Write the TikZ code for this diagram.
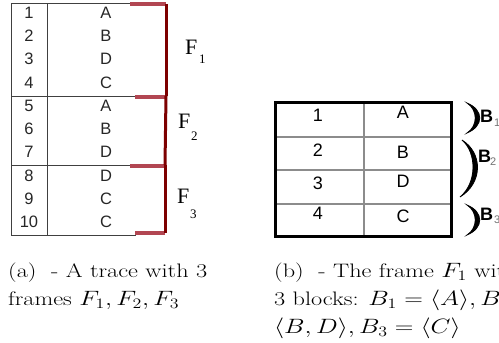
\documentclass[tikz,border=0pt]{standalone}
\usepackage{graphicx}
\usepackage{fontspec}
\newfontfamily\tabfont{Liberation Sans}
\newfontfamily\flabfont{Liberation Serif}
\newcommand\capstretch[1]{\scalebox{1.245}[1]{#1}}
\begin{document}
\begin{tikzpicture}[x=1pt,y=-1pt,
  cell/.style={font=\tabfont\fontsize{16.5}{16.5}\selectfont, text=black!85, inner sep=0pt, anchor=center},
  rcell/.style={font=\tabfont\fontsize{18}{18}\selectfont, text=black, inner sep=0pt, anchor=center},
  grid/.style={draw=black!75, line width=0.9pt},
  fhor/.style={draw={rgb,255:red,178;green,70;blue,82}, line width=4.5pt},
  fver/.style={draw={rgb,255:red,125;green,0;blue,0}, line width=3pt},
  flab/.style={font=\flabfont\fontsize{22}{22}\selectfont, inner sep=0pt, anchor=base west},
  fsub/.style={font=\flabfont\fontsize{13}{13}\selectfont, inner sep=0pt, anchor=base west},
  rgrid/.style={draw=black!45, line width=2.2pt},
  paren/.style={fill=black, draw=black, line width=0.8pt},
  blab/.style={font=\tabfont\bfseries\fontsize{18}{18}\selectfont, inner sep=0pt, anchor=base west},
  bsub/.style={font=\tabfont\fontsize{11}{11}\selectfont, text=black!55, inner sep=0pt, anchor=base west},
  captext/.style={font=\fontsize{19.5}{19.5}\selectfont, inner sep=0pt, anchor=base west}]
\useasboundingbox (0,0) rectangle (499,343);
% ---------- left table ----------
\draw[grid] (11,3) -- (11,235);
\draw[grid] (47,3) -- (47,235);
\draw[grid] (11,3) -- (132,3);
\draw[grid] (11,96) -- (136,96);
\draw[grid] (11,165) -- (132,165);
\draw[grid] (11,235) -- (136,235);
\foreach \n/\l [count=\i] in {1/A,2/B,3/D,4/C,5/A,6/B,7/D,8/D,9/C,10/C}{
  \node[cell] (n\i) at (29,{12.5+23.3*(\i-1)}) {\n};
  \node[cell] (l\i) at (106,{12.5+23.3*(\i-1)}) {\l};
}
% frame brackets
\coordinate (f1a) at (130,4);
\coordinate (f1b) at (166,4);
\coordinate (f1c) at (166,96);
\coordinate (f2a) at (135,97);
\coordinate (f2b) at (165,97);
\coordinate (f2c) at (165,165);
\coordinate (f3a) at (130,166);
\coordinate (f3b) at (165,166);
\coordinate (f3c) at (165,233);
\coordinate (f3d) at (135,233);
\draw[fhor] (f1a) -- (f1b);
\draw[fhor] (f2a) -- (f2b);
\draw[fhor] (f3a) -- (f3b);
\draw[fhor] (f3c) -- (f3d);
\draw[fver] (f1b) -- (f1c);
\draw[fver] (f1c) -- (f2c);
\draw[fver] (f2c) -- (f3c);
\node[flab] (F1) at (185,54) {F};
\node[fsub] (F1s) at (199,63) {1};
\node[flab] (F2) at (178,128) {F};
\node[fsub] (F2s) at (191,140) {2};
\node[flab] (F3) at (177,203) {F};
\node[fsub] (F3s) at (190,218) {3};
% ---------- right table ----------
\draw[rgrid] (364,102) -- (364,236);
\draw[rgrid] (275,137) -- (451,137);
\draw[rgrid] (275,170) -- (451,170);
\draw[rgrid] (275,204) -- (451,204);
\draw[draw=black, line width=3pt] (275,102) rectangle (451,236);
\foreach \n/\l/\ya/\yb [count=\i] in {1/A/115/112,2/B/150/152,3/D/183/181,4/C/213/216}{
  \node[rcell] (rn\i) at (318,\ya) {\n};
  \node[rcell] (rl\i) at (403,\yb) {\l};
}
\coordinate (p1a) at (467,103);
\coordinate (p1b) at (467,133);
\coordinate (p2a) at (462,140);
\coordinate (p2b) at (460,197);
\coordinate (p3a) at (467,205);
\coordinate (p3b) at (467,235);
\filldraw[paren] (p1a) .. controls (484,110) and (484,126) .. (p1b) .. controls (478,126) and (478,110) .. (p1a) -- cycle;
\filldraw[paren] (p2a) .. controls (483,153) and (483,183) .. (p2b) .. controls (477,183) and (477,153) .. (p2a) -- cycle;
\filldraw[paren] (p3a) .. controls (484,212) and (484,228) .. (p3b) .. controls (478,228) and (478,212) .. (p3a) -- cycle;
\node[blab] (B1) at (480,122) {B};
\node[bsub] (B1s) at (494,126) {1};
\node[blab] (B2) at (478,162) {B};
\node[bsub] (B2s) at (490,165) {2};
\node[blab] (B3) at (480,220) {B};
\node[bsub] (B3s) at (494,223) {3};
% ---------- captions ----------
\node[captext] (ca1) at (8,277) {\capstretch{(a)~~- A trace with 3}};
\node[captext] (ca2) at (8,305) {\capstretch{frames $F_1,F_2,F_3$}};
\node[captext] (cb1) at (274,277) {\capstretch{(b)~~- The frame $F_1$ with}};
\node[captext] (cb2) at (274,305) {\capstretch{3 blocks: $B_1=\langle A\rangle,B_2=$}};
\node[captext] (cb3) at (274,333) {\capstretch{$\langle B,D\rangle,B_3=\langle C\rangle$}};
\end{tikzpicture}
\end{document}
